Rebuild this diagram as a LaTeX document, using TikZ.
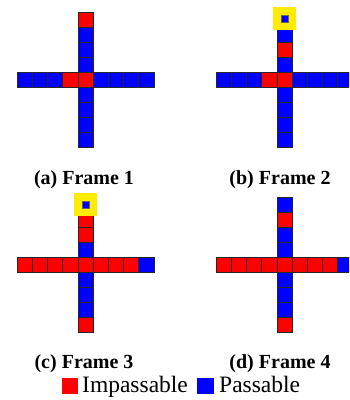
\documentclass[tikz,border=0pt]{standalone}
\usepackage{fontspec}
\setmainfont{Liberation Serif}
\definecolor{wall}{rgb}{1,0,0}
\definecolor{open}{rgb}{0,0,1}
\definecolor{goal}{RGB}{255,236,0}
\tikzset{
  cellbox/.style={draw=black!85, line width=0.8pt},
  caption/.style={anchor=base, inner sep=0pt, font=\fontsize{20}{24}\selectfont\bfseries},
  legendtext/.style={anchor=base west, inner sep=0pt, font=\fontsize{23.5}{28}\selectfont},
}
% one cross: #1,#2 = top-left of the centre cell; #3 = vertical colours (top to bottom), #4 = horizontal colours (left to right)
\newcommand{\crossgrid}[4]{%
  \foreach \c [count=\i from 0] in {#4}{
    \fill[\c, cellbox] ({#1+(\i-4)*15.2},{#2}) rectangle ++(15.2,15);
  }
  \foreach \c [count=\i from 0] in {#3}{
    \ifnum\i=4\relax\else
      \fill[\c, cellbox] ({#1},{#2+(\i-4)*15}) rectangle ++(15.2,15);
    \fi
  }
}
% yellow marker with a small passable square, centred at #1,#2
\newcommand{\goalmark}[2]{%
  \fill[goal] ({#1-11.5},{#2-11.5}) rectangle ++(23,23);
  \fill[open, draw=black!60, line width=0.4pt] ({#1-3.7},{#2-3.7}) rectangle ++(7.4,7.4);
}
\begin{document}
\begin{tikzpicture}[x=1pt, y=-1pt]
\useasboundingbox (0,0) rectangle (349,400);
\begin{scope}
\clip (0,0) rectangle (349,400);
% (a) frame 1
\crossgrid{78}{72}{wall,open,open,open,wall,open,open,open,open}{open,open,open,wall,wall,open,open,open,open}
% (b) frame 2
\crossgrid{277}{72}{open,open,wall,open,wall,open,open,open,open}{open,open,open,wall,wall,open,open,open,open}
\goalmark{284.4}{18.7}
% (c) frame 3
\crossgrid{78}{257}{wall,wall,wall,open,wall,open,open,open,wall}{wall,wall,wall,wall,wall,wall,wall,wall,open}
\goalmark{85.4}{204.4}
% (d) frame 4
\crossgrid{277}{257}{open,wall,open,open,wall,open,open,open,wall}{wall,wall,wall,wall,wall,wall,wall,wall,open}
\end{scope}
% captions
\node[caption] (capa) at (84,184) {(a) Frame 1};
\node[caption] (capb) at (280,184) {(b) Frame 2};
\node[caption] (capc) at (84,368) {(c) Frame 3};
\node[caption] (capd) at (280,368) {(d) Frame 4};
% legend
\fill[wall] (62,378) rectangle (78,394);
\node[legendtext] (imp) at (82,392) {Impassable};
\fill[open] (197,378) rectangle (214,394);
\node[legendtext] (pas) at (219,392) {Passable};
\end{tikzpicture}
\end{document}
